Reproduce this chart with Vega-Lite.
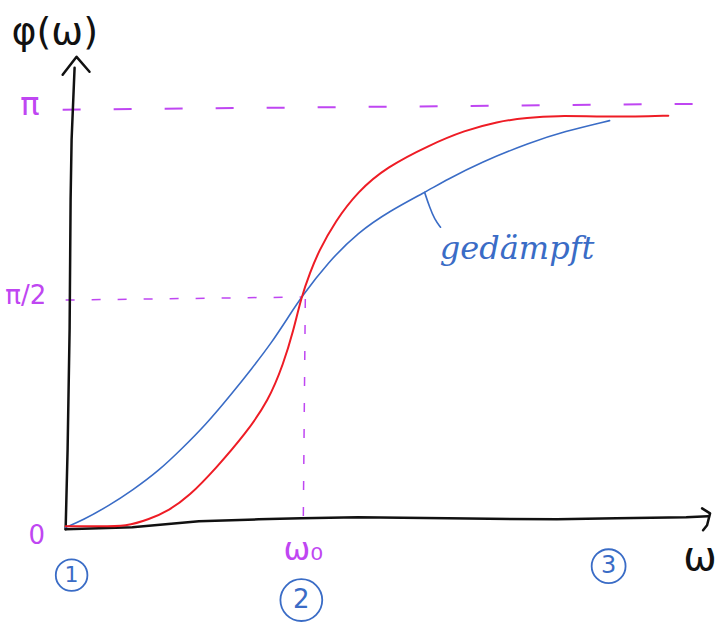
{
  "$schema": "https://vega.github.io/schema/vega-lite/v6.json",
  "width": 723,
  "height": 625,
  "padding": 0,
  "autosize": {"type": "fit", "contains": "padding"},
  "background": "white",
  "view": {"stroke": null},
  "config": {"font": "DejaVu Sans"},
  "datasets": {
    "lines": [
      {"s": "yaxis", "i": 0, "x": 0, "y": -3}, {"s": "yaxis", "i": 1, "x": 2, "y": 78}, {"s": "yaxis", "i": 2, "x": 4, "y": 198}, {"s": "yaxis", "i": 3, "x": 5, "y": 328}, {"s": "yaxis", "i": 4, "x": 6, "y": 388}, {"s": "yaxis", "i": 5, "x": 9, "y": 460},
      {"s": "yarrow", "i": 0, "x": -3, "y": 453}, {"s": "yarrow", "i": 1, "x": 11, "y": 471}, {"s": "yarrow", "i": 2, "x": 24, "y": 456},
      {"s": "xaxis", "i": 0, "x": 0, "y": -3}, {"s": "xaxis", "i": 1, "x": 67, "y": -1}, {"s": "xaxis", "i": 2, "x": 134, "y": 5}, {"s": "xaxis", "i": 3, "x": 194, "y": 7}, {"s": "xaxis", "i": 4, "x": 237, "y": 8}, {"s": "xaxis", "i": 5, "x": 294, "y": 9}, {"s": "xaxis", "i": 6, "x": 384, "y": 8}, {"s": "xaxis", "i": 7, "x": 494, "y": 7}, {"s": "xaxis", "i": 8, "x": 554, "y": 8}, {"s": "xaxis", "i": 9, "x": 624, "y": 9}, {"s": "xaxis", "i": 10, "x": 646, "y": 10},
      {"s": "xarrow", "i": 0, "x": 640, "y": 18}, {"s": "xarrow", "i": 1, "x": 648, "y": 13}, {"s": "xarrow", "i": 2, "x": 645, "y": 1}, {"s": "xarrow", "i": 3, "x": 641, "y": -4},
      {"s": "pi", "i": 0, "x": -3, "y": 418}, {"s": "pi", "i": 1, "x": 657, "y": 424},
      {"s": "pi2h", "i": 0, "x": 0, "y": 227}, {"s": "pi2h", "i": 1, "x": 237, "y": 230},
      {"s": "pi2v", "i": 0, "x": 241, "y": 228}, {"s": "pi2v", "i": 1, "x": 239, "y": 8},
      {"s": "red", "i": 0, "x": 0, "y": 0}, {"s": "red", "i": 1, "x": 34, "y": 0}, {"s": "red", "i": 2, "x": 61, "y": 0}, {"s": "red", "i": 3, "x": 84, "y": 7}, {"s": "red", "i": 4, "x": 104, "y": 16}, {"s": "red", "i": 5, "x": 124, "y": 30}, {"s": "red", "i": 6, "x": 151, "y": 58}, {"s": "red", "i": 7, "x": 181, "y": 93}, {"s": "red", "i": 8, "x": 204, "y": 126}, {"s": "red", "i": 9, "x": 219, "y": 163}, {"s": "red", "i": 10, "x": 229, "y": 196}, {"s": "red", "i": 11, "x": 237, "y": 230}, {"s": "red", "i": 12, "x": 246, "y": 255}, {"s": "red", "i": 13, "x": 254, "y": 275}, {"s": "red", "i": 14, "x": 271, "y": 306}, {"s": "red", "i": 15, "x": 294, "y": 336}, {"s": "red", "i": 16, "x": 322, "y": 360}, {"s": "red", "i": 17, "x": 367, "y": 383}, {"s": "red", "i": 18, "x": 401, "y": 397}, {"s": "red", "i": 19, "x": 434, "y": 406}, {"s": "red", "i": 20, "x": 464, "y": 410}, {"s": "red", "i": 21, "x": 494, "y": 412}, {"s": "red", "i": 22, "x": 534, "y": 411}, {"s": "red", "i": 23, "x": 574, "y": 411}, {"s": "red", "i": 24, "x": 606, "y": 412},
      {"s": "blue", "i": 0, "x": 0, "y": -1}, {"s": "blue", "i": 1, "x": 17, "y": 6}, {"s": "blue", "i": 2, "x": 44, "y": 21}, {"s": "blue", "i": 3, "x": 67, "y": 36}, {"s": "blue", "i": 4, "x": 94, "y": 56}, {"s": "blue", "i": 5, "x": 117, "y": 78}, {"s": "blue", "i": 6, "x": 141, "y": 102}, {"s": "blue", "i": 7, "x": 167, "y": 133}, {"s": "blue", "i": 8, "x": 187, "y": 158}, {"s": "blue", "i": 9, "x": 207, "y": 184}, {"s": "blue", "i": 10, "x": 224, "y": 210}, {"s": "blue", "i": 11, "x": 237, "y": 230}, {"s": "blue", "i": 12, "x": 264, "y": 265}, {"s": "blue", "i": 13, "x": 294, "y": 295}, {"s": "blue", "i": 14, "x": 327, "y": 317}, {"s": "blue", "i": 15, "x": 361, "y": 335}, {"s": "blue", "i": 16, "x": 384, "y": 348}, {"s": "blue", "i": 17, "x": 417, "y": 365}, {"s": "blue", "i": 18, "x": 467, "y": 385}, {"s": "blue", "i": 19, "x": 501, "y": 396}, {"s": "blue", "i": 20, "x": 547, "y": 407},
      {"s": "pointer", "i": 0, "x": 361, "y": 335}, {"s": "pointer", "i": 1, "x": 366, "y": 320}, {"s": "pointer", "i": 2, "x": 371, "y": 308}, {"s": "pointer", "i": 3, "x": 377, "y": 300}
    ],
    "labels": [
      {"t": "φ(ω)", "c": "black", "x": -11, "y": 495, "sz": 38},
      {"t": "π", "c": "purple", "x": -36, "y": 423, "sz": 32},
      {"t": "π/2", "c": "purple", "x": -40, "y": 231, "sz": 26},
      {"t": "0", "c": "purple", "x": -29, "y": -10, "sz": 26},
      {"t": "ω₀", "c": "purple", "x": 239, "y": -24, "sz": 32},
      {"t": "ω", "c": "black", "x": 638, "y": -32, "sz": 40},
      {"t": "1", "c": "blue", "x": 6, "y": -49, "sz": 22},
      {"t": "2", "c": "blue", "x": 237, "y": -74, "sz": 26},
      {"t": "3", "c": "blue", "x": 546, "y": -40, "sz": 24}
    ],
    "circles": [
      {"x": 6, "y": -49, "r": 1000},
      {"x": 237, "y": -74, "r": 1750},
      {"x": 546, "y": -40, "r": 1150}
    ]
  },
  "encoding": {
    "x": {"field": "x", "type": "quantitative", "scale": {"domain": [-66, 657], "nice": false, "zero": false}, "axis": null},
    "y": {"field": "y", "type": "quantitative", "scale": {"domain": [-97, 528], "nice": false, "zero": false}, "axis": null}
  },
  "layer": [
    {
      "data": {"name": "lines"},
      "transform": [{"filter": "datum.s === 'pi'"}],
      "mark": {"type": "line", "color": "#bf46f2", "strokeWidth": 2, "strokeDash": [18, 33]},
      "encoding": {"order": {"field": "i", "type": "quantitative"}}
    },
    {
      "data": {"name": "lines"},
      "transform": [{"filter": "datum.s === 'pi2h' || datum.s === 'pi2v'"}],
      "mark": {"type": "line", "color": "#bf46f2", "strokeWidth": 1.5, "strokeDash": [9, 17]},
      "encoding": {"detail": {"field": "s"}, "order": {"field": "i", "type": "quantitative"}}
    },
    {
      "data": {"name": "lines"},
      "transform": [{"filter": "datum.s === 'yaxis' || datum.s === 'yarrow' || datum.s === 'xaxis' || datum.s === 'xarrow'"}],
      "mark": {"type": "line", "color": "#111111", "strokeWidth": 2.5, "strokeCap": "round", "strokeJoin": "round"},
      "encoding": {"detail": {"field": "s"}, "order": {"field": "i", "type": "quantitative"}}
    },
    {
      "data": {"name": "lines"},
      "transform": [{"filter": "datum.s === 'blue' || datum.s === 'pointer'"}],
      "mark": {"type": "line", "color": "#3a6cc6", "strokeWidth": 1.6, "interpolate": "basis", "strokeCap": "round"},
      "encoding": {"detail": {"field": "s"}, "order": {"field": "i", "type": "quantitative"}}
    },
    {
      "data": {"name": "lines"},
      "transform": [{"filter": "datum.s === 'red'"}],
      "mark": {"type": "line", "color": "#ee1c25", "strokeWidth": 2, "interpolate": "basis", "strokeCap": "round"},
      "encoding": {"order": {"field": "i", "type": "quantitative"}}
    },
    {
      "data": {"name": "circles"},
      "mark": {"type": "point", "shape": "circle", "filled": false, "stroke": "#3a6cc6", "strokeWidth": 1.8, "opacity": 1},
      "encoding": {
        "size": {"field": "r", "type": "quantitative", "scale": null}
      }
    },
    {
      "data": {"name": "labels"},
      "mark": {"type": "text", "align": "center", "baseline": "middle", "font": "DejaVu Sans", "clip": true},
      "encoding": {
        "text": {"field": "t"},
        "size": {"field": "sz", "type": "quantitative", "scale": null},
        "color": {"field": "c", "type": "nominal", "legend": null, "scale": {"domain": ["black", "purple", "blue"], "range": ["#111111", "#bf46f2", "#3a6cc6"]}}
      }
    },
    {
      "data": {"values": [{"t": "gedämpft", "x": 454, "y": 278}]},
      "mark": {"type": "text", "align": "center", "baseline": "middle", "font": "DejaVu Serif", "fontStyle": "italic", "fontSize": 32, "color": "#3a6cc6"},
      "encoding": {"text": {"field": "t"}}
    }
  ]
}
